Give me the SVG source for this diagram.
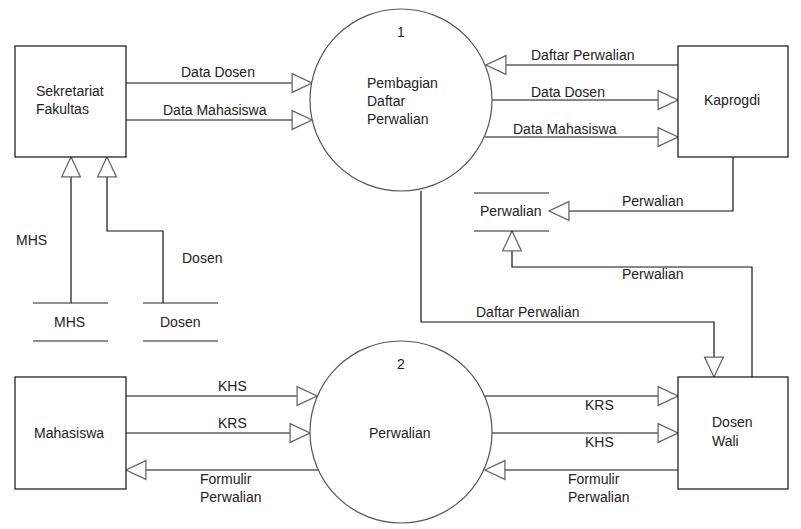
<svg xmlns="http://www.w3.org/2000/svg" width="801" height="529" viewBox="0 0 801 529">
<defs>
<style>
text{font-family:"Liberation Sans",Arial,sans-serif;font-size:14px;fill:#222;}
.box{fill:#fff;stroke:#111;stroke-width:1.2;}
.proc{fill:#fff;stroke:#555;stroke-width:1.2;}
.store{stroke:#222;stroke-width:1.2;fill:none;}
.flow{fill:none;stroke:#111;stroke-width:1.2;marker-end:url(#arr);}
</style>
<marker id="arr" markerUnits="userSpaceOnUse" markerWidth="22" markerHeight="22" viewBox="-1 -1 21 20" refX="19" refY="9" orient="auto">
<path d="M0,0 L19,9 L0,18 Z" fill="#fff" stroke="#666" stroke-width="1.2"/>
</marker>
</defs>
<rect width="801" height="529" fill="#fff"/>

<g id="connectors">
<path class="flow" d="M126,83 H312"/>
<text x="181" y="77">Data Dosen</text>
<path class="flow" d="M126,120 H312"/>
<text x="163" y="115">Data Mahasiswa</text>

<path class="flow" d="M678,65 H486"/>
<text x="531" y="60">Daftar Perwalian</text>
<path class="flow" d="M492,100 H678"/>
<text x="531" y="97">Data Dosen</text>
<path class="flow" d="M485,137 H678"/>
<text x="513" y="134">Data Mahasiswa</text>

<path class="flow" d="M733,157 V211 H549"/>
<text x="622" y="206">Perwalian</text>

<path class="flow" d="M752,377 V267 H512 V231"/>
<text x="622" y="279">Perwalian</text>

<path class="flow" d="M421,191 V322 H714 V377"/>
<text x="476" y="317">Daftar Perwalian</text>

<path class="flow" d="M71,303 V157"/>
<text x="16" y="245">MHS</text>
<path class="flow" d="M163,303 V231 H107 V157"/>
<text x="182" y="263">Dosen</text>

<path class="flow" d="M126,396 H317"/>
<text x="218" y="391">KHS</text>
<path class="flow" d="M126,433 H310"/>
<text x="218" y="428">KRS</text>
<path class="flow" d="M318,470 H126"/>
<text x="200" y="484">Formulir</text>
<text x="200" y="502">Perwalian</text>

<path class="flow" d="M485,396 H678"/>
<text x="585" y="410">KRS</text>
<path class="flow" d="M492,433 H678"/>
<text x="585" y="447">KHS</text>
<path class="flow" d="M678,470 H485"/>
<text x="568" y="484">Formulir</text>
<text x="568" y="502">Perwalian</text>
</g>

<g id="sekretariat">
<rect class="box" x="15" y="46" width="111" height="111"/>
<text x="36" y="96">Sekretariat</text>
<text x="36" y="114">Fakultas</text>
</g>

<g id="proc1">
<circle class="proc" cx="401" cy="100" r="91"/>
<text x="397" y="37">1</text>
<text x="367" y="88">Pembagian</text>
<text x="367" y="106">Daftar</text>
<text x="367" y="124">Perwalian</text>
</g>

<g id="kaprogdi">
<rect class="box" x="678" y="46" width="110" height="111"/>
<text x="704" y="105">Kaprogdi</text>
</g>

<g id="store-perwalian">
<path class="store" d="M474,193 H549 M474,231 H549"/>
<text x="480" y="216">Perwalian</text>
</g>

<g id="store-mhs">
<path class="store" d="M33,303 H108 M33,341 H108"/>
<text x="54" y="327">MHS</text>
</g>

<g id="store-dosen">
<path class="store" d="M143,303 H218 M143,341 H218"/>
<text x="160" y="327">Dosen</text>
</g>

<g id="mahasiswa">
<rect class="box" x="15" y="377" width="111" height="112"/>
<text x="34" y="438">Mahasiswa</text>
</g>

<g id="proc2">
<circle class="proc" cx="401" cy="432" r="91"/>
<text x="397" y="369">2</text>
<text x="369" y="438">Perwalian</text>
</g>

<g id="dosenwali">
<rect class="box" x="678" y="377" width="110" height="112"/>
<text x="712" y="427">Dosen</text>
<text x="712" y="446">Wali</text>
</g>
</svg>
